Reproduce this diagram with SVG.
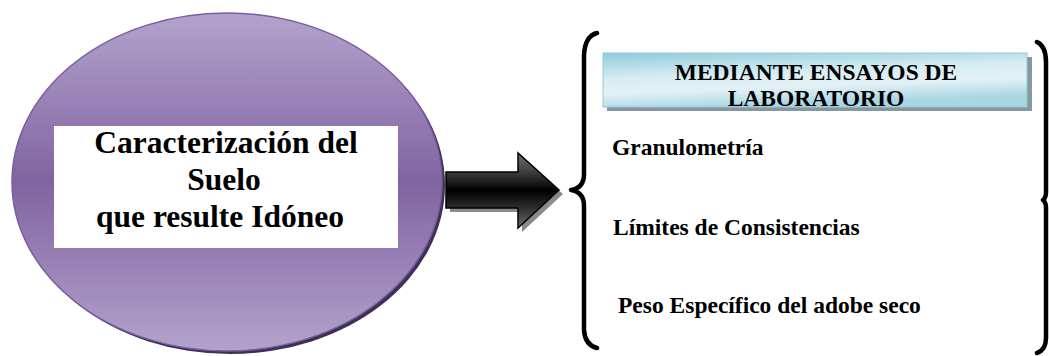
<svg xmlns="http://www.w3.org/2000/svg" width="1049" height="356" viewBox="0 0 1049 356">
  <style>
    text { font-family: "Liberation Serif", "Times New Roman", Times, serif; font-weight: 700; fill: #000; }
    .main { font-size: 31.5px; text-anchor: middle; }
    .hdr { font-size: 23.5px; text-anchor: middle; }
    .item { font-size: 23.5px; }
    .brace { fill: none; stroke: #000; stroke-width: 4.5; stroke-linecap: round; stroke-linejoin: round; }
  </style>
  <defs>
    <linearGradient id="gPurple" x1="0" y1="0" x2="0" y2="1">
      <stop offset="0" stop-color="#b3a3cb"/>
      <stop offset="0.5" stop-color="#8064a2"/>
      <stop offset="1" stop-color="#b3a3cb"/>
    </linearGradient>
    <linearGradient id="gArrow" x1="0" y1="0" x2="0" y2="1">
      <stop offset="0" stop-color="#6e6e6e"/>
      <stop offset="0.2" stop-color="#4a4a4a"/>
      <stop offset="0.5" stop-color="#000"/>
      <stop offset="0.8" stop-color="#3c3c3c"/>
      <stop offset="1" stop-color="#707070"/>
    </linearGradient>
    <linearGradient id="gBlue" x1="0" y1="0" x2="0.3" y2="1">
      <stop offset="0" stop-color="#90cbdb"/>
      <stop offset="0.45" stop-color="#d8edf3"/>
      <stop offset="0.7" stop-color="#e3f1f6"/>
      <stop offset="1" stop-color="#a8d6e3"/>
    </linearGradient>
  </defs>

  <g id="node-main">
    <ellipse cx="230" cy="185" rx="215" ry="169" fill="#3f3155"/>
    <ellipse cx="227" cy="182" rx="215" ry="169" fill="url(#gPurple)" stroke="#7a5d9e" stroke-width="1.5"/>
    <rect x="54" y="126" width="344" height="122" fill="#fff"/>
    <text class="main" x="226" y="153" font-family="Liberation Serif, serif">Caracterización del</text>
    <text class="main" x="224" y="190" font-family="Liberation Serif, serif">Suelo</text>
    <text class="main" x="220" y="227" font-family="Liberation Serif, serif">que resulte Idóneo</text>
  </g>

  <g id="connectors">
    <path d="M450,176 H522 V157 L563,194 L522,232 V212 H450 Z" fill="#8a8a8a"/>
    <path d="M446,172 H518 V153 L559,190 L518,228 V208 H446 Z" fill="url(#gArrow)" stroke="#000" stroke-width="1.5" stroke-linejoin="miter"/>
  </g>

  <g id="brackets">
    <path class="brace" d="M597,33 Q585,36 584,55 L584,174 Q584,188 571,190 Q584,192 584,206 L584,330 Q585,345 597,348"/>
    <path class="brace" d="M1037,42 Q1046,46 1046,62 L1046,192 Q1046,198 1043,200 Q1046,202 1046,208 L1046,338 Q1046,350 1037,353"/>
  </g>

  <g id="node-header">
    <rect x="607" y="57" width="425" height="54" fill="#8797a0"/>
    <rect x="603" y="53" width="424" height="54" fill="url(#gBlue)" stroke="#93c9d8" stroke-width="1"/>
    <text class="hdr" x="816" y="80" font-family="Liberation Serif, serif">MEDIANTE ENSAYOS DE</text>
    <text class="hdr" x="816" y="106" font-family="Liberation Serif, serif">LABORATORIO</text>
  </g>

  <g id="node-granulometria">
    <text class="item" x="612" y="155" font-family="Liberation Serif, serif">Granulometría</text>
  </g>
  <g id="node-limites">
    <text class="item" x="613" y="235" font-family="Liberation Serif, serif">Límites de Consistencias</text>
  </g>
  <g id="node-peso">
    <text class="item" x="618" y="313" font-family="Liberation Serif, serif">Peso Específico del adobe seco</text>
  </g>
</svg>
